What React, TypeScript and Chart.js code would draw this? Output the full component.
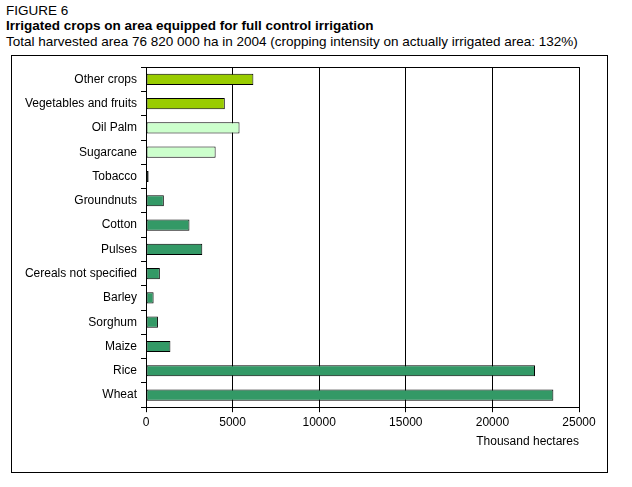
import React, { useEffect, useRef } from "react";
import { Chart, registerables } from "chart.js";

Chart.register(...registerables);

const categories = [
  "Other crops",
  "Vegetables and fruits",
  "Oil Palm",
  "Sugarcane",
  "Tobacco",
  "Groundnuts",
  "Cotton",
  "Pulses",
  "Cereals not specified",
  "Barley",
  "Sorghum",
  "Maize",
  "Rice",
  "Wheat",
];
const values = [6200, 4550, 5400, 4020, 150, 1030, 2510, 3250, 800, 440, 690, 1410, 22460, 23520];
const groups = ["other", "other", "industrial", "industrial", "field", "field", "field", "field", "field", "field", "field", "field", "field", "field"];
const groupColors: Record<string, string> = { other: "#99CC00", industrial: "#CCFFCC", field: "#339966" };
const xTicks = [0, 5000, 10000, 15000, 20000, 25000];
const xTitle = "Thousand hectares";
const figLabel = "FIGURE 6";
const title = "Irrigated crops on area equipped for full control irrigation";
const subtitle = "Total harvested area 76 820 000 ha in 2004 (cropping intensity on actually irrigated area: 132%)";

const FONT = "'Liberation Sans', Arial, sans-serif";

const frame = {
  id: "frame",
  afterDraw(chart: any) {
    const { ctx, chartArea } = chart;
    ctx.save();
    ctx.strokeStyle = "#000";
    ctx.lineWidth = 1;
    ctx.beginPath();
    ctx.moveTo(Math.round(chartArea.left) + 0.5, Math.round(chartArea.top) + 0.5);
    ctx.lineTo(Math.round(chartArea.right) + 0.5, Math.round(chartArea.top) + 0.5);
    ctx.lineTo(Math.round(chartArea.right) + 0.5, Math.round(chartArea.bottom) + 0.5);
    ctx.stroke();
    ctx.restore();
  },
};

export default function App() {
  const ref = useRef<HTMLCanvasElement>(null);
  useEffect(() => {
    if (!ref.current) return;
    const chart = new Chart(ref.current, {
      type: "bar",
      data: {
        labels: categories,
        datasets: [
          {
            data: values,
            backgroundColor: groups.map((g) => groupColors[g]),
            borderColor: "#000",
            borderWidth: 1,
            borderSkipped: false,
            barPercentage: 0.46,
            categoryPercentage: 1,
          },
        ],
      },
      options: {
        indexAxis: "y",
        animation: false,
        responsive: false,
        maintainAspectRatio: false,
        layout: { padding: { top: 7, right: 28, bottom: 19, left: 0 } },
        plugins: { legend: { display: false }, tooltip: { enabled: false } },
        scales: {
          x: {
            min: xTicks[0],
            max: xTicks[xTicks.length - 1],
            afterBuildTicks: (s: any) => {
              s.ticks = xTicks.map((v) => ({ value: v }));
            },
            grid: { color: "#000", tickLength: 5, lineWidth: 1 },
            border: { color: "#000" },
            ticks: {
              color: "#000",
              font: { family: FONT, size: 12 },
              padding: 3,
              maxRotation: 0,
              callback: (v: any) => String(v),
            },
            title: {
              display: true,
              text: xTitle,
              align: "end",
              color: "#000",
              font: { family: FONT, size: 12 },
              padding: { top: 2, bottom: 4 },
            },
          },
          y: {
            afterFit: (s: any) => {
              s.width = 134;
            },
            grid: { color: "#000", drawOnChartArea: false, tickLength: 5, offset: true },
            border: { color: "#000" },
            ticks: { color: "#000", font: { family: FONT, size: 12 }, padding: 4, autoSkip: false },
          },
        },
      },
      plugins: [frame],
    });
    return () => chart.destroy();
  }, []);

  return (
    <div style={{ position: "absolute", left: 0, top: 0, width: 632, height: 487, background: "#fff", fontFamily: FONT, color: "#000" }}>
      <div style={{ position: "absolute", left: 6, top: 3, fontSize: 13.5, lineHeight: "16px", whiteSpace: "nowrap" }}>{figLabel}</div>
      <div style={{ position: "absolute", left: 6, top: 18, fontSize: 13.5, fontWeight: "bold", lineHeight: "16px", whiteSpace: "nowrap" }}>{title}</div>
      <div style={{ position: "absolute", left: 6, top: 34, fontSize: 13.5, lineHeight: "16px", whiteSpace: "nowrap" }}>{subtitle}</div>
      <div style={{ position: "absolute", left: 11, top: 55, width: 597, height: 418, boxSizing: "border-box", border: "1px solid #000" }}>
        <canvas ref={ref} width={595} height={416} style={{ display: "block", width: 595, height: 416 }} />
      </div>
    </div>
  );
}
